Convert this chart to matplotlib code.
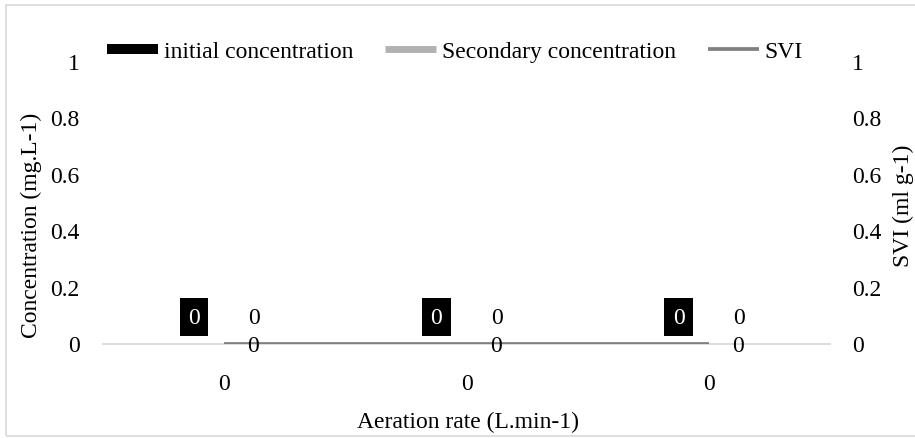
import matplotlib
matplotlib.use("Agg")
import matplotlib.pyplot as plt
from matplotlib.lines import Line2D
from matplotlib.patches import Rectangle
import numpy as np

plt.rcParams['font.family'] = ['Liberation Serif', 'DejaVu Serif']

categories = ['0', '0', '0']
initial_conc = [0, 0, 0]
secondary_conc = [0, 0, 0]
svi = [0, 0, 0]
yticks = [0, 0.2, 0.4, 0.6, 0.8, 1]
ytick_labels = ['0', '0.2', '0.4', '0.6', '0.8', '1']

W, H = 915, 439
fig = plt.figure(figsize=(W / 100, H / 100), dpi=100)
FS = 17

# outer chart border
fig.patches.append(Rectangle((6 / W, 2 / H), (W + 20) / W, (H - 8) / H,
                             transform=fig.transFigure, fill=False,
                             edgecolor='#d9d9d9', linewidth=1.2))

ax_l, ax_r = 103, 830
ax_t, ax_b = 62, 344.5
ax = fig.add_axes([ax_l / W, 1 - ax_b / H, (ax_r - ax_l) / W, (ax_b - ax_t) / H])
ax2 = ax.twinx()

x = np.arange(len(categories))
bw = 0.25
b1 = ax.bar(x - bw / 2, initial_conc, bw, color='black', label='initial concentration')
b2 = ax.bar(x + bw / 2, secondary_conc, bw, color='#b2b2b2', label='Secondary concentration')
ln, = ax2.plot(x, svi, color='#808080', linewidth=2.7, solid_capstyle='butt', label='SVI')

ax.set_xlim(-0.5, len(categories) - 0.5)
ax.set_ylim(0, 1)
ax2.set_ylim(0, 1)

# data labels
for xi, v in zip(x - bw / 2, initial_conc):
    ax.annotate(f'{v:g}', (xi, v), xytext=(0, 19), textcoords='offset points',
                ha='center', va='center', color='white', fontsize=FS,
                bbox=dict(boxstyle='square,pad=0.36', fc='black', ec='none'))
for xi, v in zip(x + bw / 2, secondary_conc):
    ax.annotate(f'{v:g}', (xi, v), xytext=(0, 18.5), textcoords='offset points',
                ha='center', va='center', color='black', fontsize=FS)
for xi, v in zip(x, svi):
    ax2.annotate(f'{v:g}', (xi, v), xytext=(21, -1.5), textcoords='offset points',
                 ha='center', va='center', color='black', fontsize=FS)

for a in (ax, ax2):
    for s in a.spines.values():
        s.set_visible(False)
ax.spines['bottom'].set_visible(True)
ax.spines['bottom'].set_color('#d9d9d9')
ax.spines['bottom'].set_linewidth(1.3)

ax.set_xticks(x)
ax.set_xticklabels(categories, fontsize=FS)
ax.set_yticks(yticks)
ax.set_yticklabels(ytick_labels, fontsize=FS)
ax2.set_yticks(yticks)
ax2.set_yticklabels(ytick_labels, fontsize=FS)
ax.tick_params(axis='x', length=0, pad=21.5)
ax.tick_params(axis='y', length=0, pad=17)
ax2.tick_params(axis='y', length=0, pad=16)

fig.text(31 / W, 1 - 225 / H, 'Concentration (mg.L-1)', rotation=90,
         ha='center', va='center', fontsize=FS)
fig.text(903 / W, 1 - 206 / H, 'SVI (ml g-1)', rotation=90,
         ha='center', va='center', fontsize=FS)
fig.text(468 / W, 1 - 422 / H, 'Aeration rate (L.min-1)',
         ha='center', va='center', fontsize=FS)

handles = [Line2D([], [], color='black', linewidth=7.2, solid_capstyle='butt'),
           Line2D([], [], color='#b2b2b2', linewidth=5, solid_capstyle='butt'),
           Line2D([], [], color='#808080', linewidth=2.7, solid_capstyle='butt')]
labels = ['initial concentration', 'Secondary concentration', 'SVI']
fig.legend(handles, labels, loc='center', bbox_to_anchor=(455 / W, 1 - 52 / H),
           ncol=3, frameon=False, fontsize=FS, handlelength=2.16,
           handletextpad=0.25, columnspacing=1.35, borderpad=0, borderaxespad=0)

fig.savefig('out.png', dpi=100)
